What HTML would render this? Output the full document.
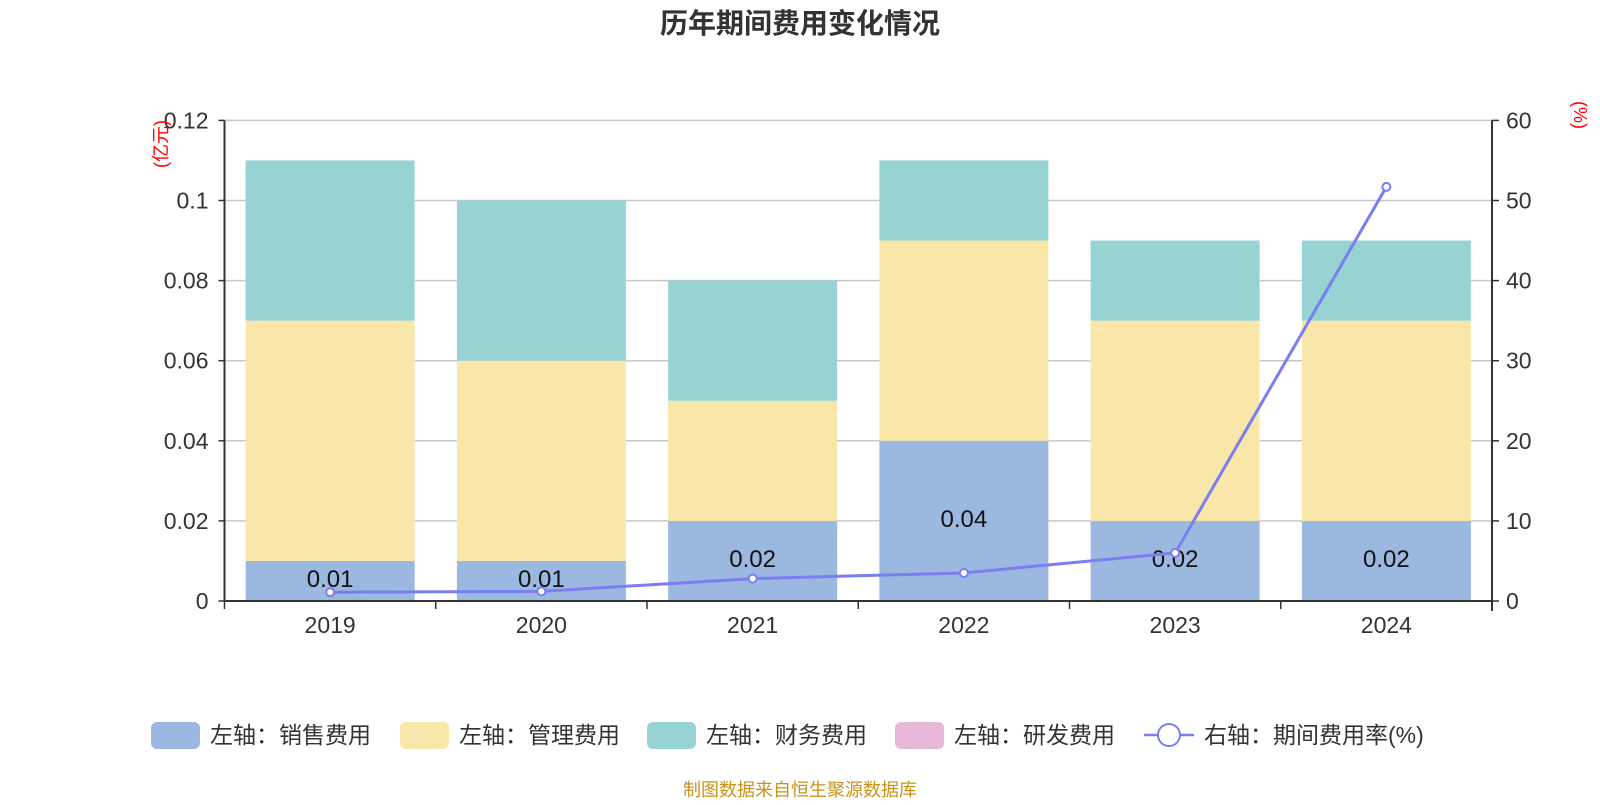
<!DOCTYPE html>
<html><head><meta charset="utf-8"><style>
body{margin:0;background:#fff;}
svg text{font-family:"Liberation Sans","Noto Sans CJK SC",sans-serif;}
</style></head><body>
<svg id="c" width="1600" height="800" xmlns="http://www.w3.org/2000/svg"></svg>
<script>
const categories=["2019","2020","2021","2022","2023","2024"];
const sales=[0.01,0.01,0.02,0.04,0.02,0.02];
const mgmt=[0.06,0.05,0.03,0.05,0.05,0.05];
const finance=[0.04,0.04,0.03,0.02,0.02,0.02];
const rate=[1.1,1.2,2.8,3.5,6.0,51.7];
const leftTicks=[0,0.02,0.04,0.06,0.08,0.1,0.12];
const leftTickLabels=["0","0.02","0.04","0.06","0.08","0.1","0.12"];
const rightTicks=[0,10,20,30,40,50,60];
const salesLabels=["0.01","0.01","0.02","0.04","0.02","0.02"];

const svg=document.getElementById('c');
const NS="http://www.w3.org/2000/svg";
const X0=224.5,X1=1492,Y0=601,Y1=120.4;
const cw=(X1-X0)/categories.length;
function yL(v){return Y0-(v/0.12)*(Y0-Y1);}
function yR(v){return Y0-(v/60)*(Y0-Y1);}
function xC(i){return X0+cw*(i+0.5);}
function mk(tag,attrs,name,parent){const e=document.createElementNS(NS,tag);for(const k in attrs)e.setAttribute(k,attrs[k]);


(parent||svg).appendChild(e);return e;}
function txt(s,attrs,name){const e=mk('text',attrs,name);e.textContent=s;return e;}

txt("历年期间费用变化情况",{x:800,y:33,'text-anchor':'middle','font-size':28,'font-weight':'bold',fill:'#333'},'chart-title');
leftTicks.forEach((t,i)=>{const y=yL(t);
 if(i>0)mk('line',{x1:X0,x2:X1,y1:y,y2:y,stroke:'#c8c8c8','stroke-width':1.5},'grid-line');
 mk('line',{x1:X0-6,x2:X0,y1:y,y2:y,stroke:'#333','stroke-width':1.5},'left-tick');
 txt(leftTickLabels[i],{x:X0-16,y:y+8,'text-anchor':'end','font-size':23,fill:'#333'},'left-tick-label');});
rightTicks.forEach(t=>{const y=yR(t);
 mk('line',{x1:X1,x2:X1+7,y1:y,y2:y,stroke:'#333','stroke-width':1.5},'right-tick');
 txt(String(t),{x:X1+14,y:y+8,'font-size':23,fill:'#333'},'right-tick-label');});
txt("(亿元)",{x:0,y:0,transform:`translate(167,144) rotate(-90)`,'text-anchor':'middle','font-size':18,fill:'red'},'left-axis-unit');
txt("(%)",{x:0,y:0,transform:`translate(1574,115) rotate(90)`,'text-anchor':'middle','font-size':18,fill:'red'},'right-axis-unit');
const bw=cw*0.8;
categories.forEach((c,i)=>{const x=xC(i)-bw/2;let base=0;
 [[sales,'#9bb8e1','bar-sales'],[mgmt,'#f8e7a9','bar-management'],[finance,'#98d3d4','bar-finance']].forEach(([arr,col,nm])=>{
  const v=arr[i];mk('rect',{x:x,y:yL(base+v),width:bw,height:yL(base)-yL(base+v),fill:col},nm+'-'+c);base+=v;});
 txt(salesLabels[i],{x:xC(i),y:(yL(0)+yL(sales[i]))/2+6,'text-anchor':'middle','font-size':24,fill:'#111'},'sales-value-label');
});
mk('line',{x1:X0,x2:X0,y1:Y1,y2:Y0,stroke:'#333','stroke-width':2},'left-axis');
mk('line',{x1:X1,x2:X1,y1:Y1,y2:Y0+10,stroke:'#333','stroke-width':2},'right-axis');
mk('line',{x1:X0,x2:X1,y1:Y0,y2:Y0,stroke:'#333','stroke-width':2},'x-axis');
for(let i=0;i<=categories.length;i++){const x=X0+cw*i;mk('line',{x1:x,x2:x,y1:Y0,y2:Y0+8,stroke:'#333','stroke-width':1.5},'x-tick');}
categories.forEach((c,i)=>txt(c,{x:xC(i),y:Y0+32,'text-anchor':'middle','font-size':23,fill:'#333'},'x-tick-label'));
mk('polyline',{points:rate.map((v,i)=>xC(i)+','+yR(v)).join(' '),fill:'none',stroke:'#7b7ef0','stroke-width':3},'rate-line');
rate.forEach((v,i)=>mk('circle',{cx:xC(i),cy:yR(v),r:4,fill:'#fff',stroke:'#7b7ef0','stroke-width':2},'rate-point'));
const LY=735;
[[151,'#9bb8e1','左轴：销售费用'],[400,'#f8e7a9','左轴：管理费用'],[647,'#98d3d4','左轴：财务费用'],[895,'#e6b9d8','左轴：研发费用']].forEach(([x,col,l])=>{
 mk('rect',{x:x,y:LY-13,width:49,height:27,rx:6,fill:col},'legend-swatch');
 txt(l,{x:x+59,y:LY+8,'font-size':23,fill:'#333'},'legend-entry');});
mk('line',{x1:1144,x2:1194,y1:LY,y2:LY,stroke:'#7b7ef0','stroke-width':2.5},'legend-line-icon');
mk('circle',{cx:1169,cy:LY,r:11,fill:'#fff',stroke:'#7b7ef0','stroke-width':2},'legend-circle-icon');
txt("右轴：期间费用率(%)",{x:1204,y:LY+8,'font-size':23,fill:'#333'},'legend-entry');
txt("制图数据来自恒生聚源数据库",{x:800,y:796,'text-anchor':'middle','font-size':18,fill:'#c8921a'},'source-note');
</script>
</body></html>
